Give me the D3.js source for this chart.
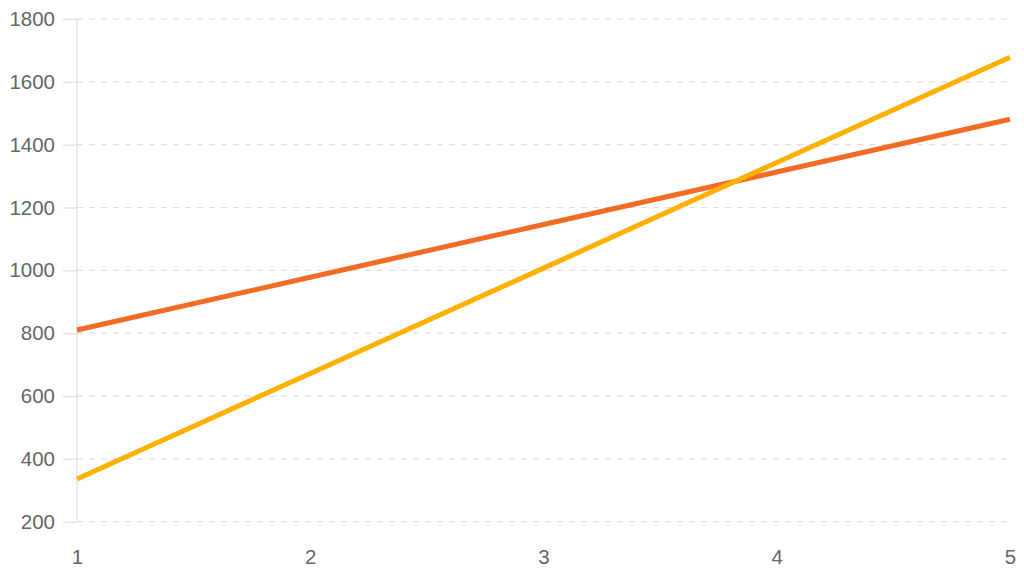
<!DOCTYPE html>
<html><head><meta charset="utf-8">
<script src="https://cdn.jsdelivr.net/npm/d3@7"></script>
<style>html,body{margin:0;padding:0;background:#fff;}svg{display:block;}</style>
</head><body>
<svg id="c" width="1024" height="577"></svg>
<script>
const xValues = [1, 2, 3, 4, 5];
const seriesA = [810, 978, 1146, 1313, 1481];
const seriesB = [336, 672, 1007, 1343, 1678];
const yTicks = [200, 400, 600, 800, 1000, 1200, 1400, 1600, 1800];
const colorA = "#F26B24";
const colorB = "#FFB000";

const svg = d3.select("#c");
const x = d3.scaleLinear().domain([1, 5]).range([77, 1010]);
const y = d3.scaleLinear().domain([200, 1800]).range([521.7, 19]);
const font = "Helvetica, 'Liberation Sans', Arial, sans-serif";

// gridlines
svg.append("g").selectAll("line").data(yTicks).join("line")
  .attr("x1", 77).attr("x2", 1010)
  .attr("y1", d => y(d)).attr("y2", d => y(d))
  .attr("stroke", "#dedede").attr("stroke-width", 1.2)
  .attr("stroke-dasharray", "6,6");

// y axis
const yAxis = d3.axisLeft(y).tickValues(yTicks).tickFormat(d3.format("d")).tickSize(14).tickPadding(8);
const gy = svg.append("g").attr("transform", "translate(77,0)").call(yAxis);
gy.select(".domain").attr("stroke", "#e2e2e2").attr("stroke-width", 1.3)
  .attr("d", `M0,${y(200)}V${y(1800)}`);
gy.selectAll(".tick line").attr("stroke", "#e2e2e2").attr("stroke-width", 1.3);
gy.selectAll(".tick text").attr("fill", "#666").style("font-family", font).style("font-size", "20.5px");

// x axis
const xAxis = d3.axisBottom(x).tickValues(xValues).tickFormat(d3.format("d")).tickSize(0).tickPadding(28);
const gx = svg.append("g").attr("transform", `translate(0,${y(200)})`).call(xAxis);
gx.select(".domain").remove();
gx.selectAll(".tick text").attr("fill", "#666").style("font-family", font).style("font-size", "20.5px");

const line = d3.line().x((d, i) => x(xValues[i])).y(d => y(d));
svg.append("path").datum(seriesA).attr("d", line).attr("fill", "none")
  .attr("stroke", colorA).attr("stroke-width", 5);
svg.append("path").datum(seriesB).attr("d", line).attr("fill", "none")
  .attr("stroke", colorB).attr("stroke-width", 5);
</script>
</body></html>
